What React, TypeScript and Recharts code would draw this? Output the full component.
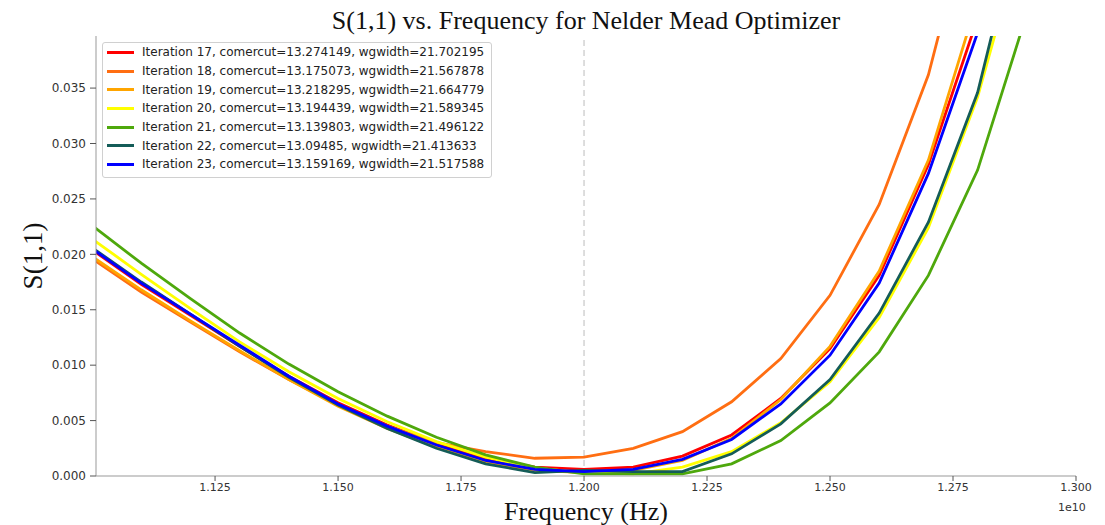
import React from 'react';
import {
  LineChart,
  Line,
  XAxis,
  YAxis,
  Legend,
  ReferenceLine,
  Label,
} from 'recharts';

// frequencies in units of 1e10 Hz
const freqs = [
  1.1, 1.11, 1.12, 1.13, 1.14, 1.15, 1.16, 1.17, 1.18, 1.19, 1.2,
  1.21, 1.22, 1.23, 1.24, 1.25, 1.26, 1.27, 1.28, 1.29, 1.3,
];

const iter17 = [0.0204, 0.0173, 0.0145, 0.0117, 0.009, 0.0066, 0.0046, 0.0029, 0.0016, 0.0008, 0.0006, 0.0008, 0.0018, 0.0037, 0.007, 0.0115, 0.0181, 0.0281, 0.0413, 0.06, 0.085];
const iter18 = [0.0196, 0.0166, 0.0139, 0.0112, 0.0087, 0.0064, 0.0045, 0.003, 0.0022, 0.0016, 0.0017, 0.0025, 0.004, 0.0067, 0.0106, 0.0163, 0.0245, 0.0362, 0.0534, 0.076, 0.106];
const iter19 = [0.0198, 0.0168, 0.014, 0.0113, 0.0087, 0.0063, 0.0043, 0.0026, 0.0013, 0.0005, 0.0003, 0.0005, 0.0014, 0.0034, 0.0069, 0.0117, 0.0185, 0.0285, 0.043, 0.062, 0.088];
const iter20 = [0.0214, 0.0182, 0.0151, 0.0121, 0.0094, 0.007, 0.0049, 0.0031, 0.0017, 0.0007, 0.0003, 0.0002, 0.0008, 0.0022, 0.0048, 0.0085, 0.0143, 0.0224, 0.0342, 0.0501, 0.072];
const iter21 = [0.0226, 0.0192, 0.016, 0.0129, 0.0101, 0.0076, 0.0054, 0.0035, 0.0019, 0.0008, 0.0002, 0.0002, 0.0002, 0.0011, 0.0032, 0.0066, 0.0112, 0.0181, 0.0276, 0.0417, 0.06];
const iter22 = [0.0206, 0.0175, 0.0146, 0.0117, 0.0089, 0.0064, 0.0043, 0.0025, 0.0011, 0.0003, 0.0005, 0.0004, 0.0004, 0.002, 0.0047, 0.0087, 0.0147, 0.0229, 0.0346, 0.0526, 0.075];
const iter23 = [0.0205, 0.0174, 0.0146, 0.0118, 0.009, 0.0065, 0.0045, 0.0028, 0.0014, 0.0006, 0.0004, 0.0006, 0.0015, 0.0033, 0.0065, 0.0109, 0.0174, 0.0273, 0.04, 0.058, 0.082];

const iterations = [17, 18, 19, 20, 21, 22, 23];
const comercut = ['13.274149', '13.175073', '13.218295', '13.194439', '13.139803', '13.09485', '13.159169'];
const wgwidth = ['21.702195', '21.567878', '21.664779', '21.589345', '21.496122', '21.413633', '21.517588'];
const colors = ['#ff0000', '#ff6e12', '#ffa500', '#ffff00', '#4ea80c', '#145c58', '#0000ff'];
const seriesValues = [iter17, iter18, iter19, iter20, iter21, iter22, iter23];

const xTicks = [1.125, 1.15, 1.175, 1.2, 1.225, 1.25, 1.275, 1.3];
const yTicks = [0, 0.005, 0.01, 0.015, 0.02, 0.025, 0.03, 0.035];

const data = freqs.map((f, i) => {
  const row: Record<string, number> = { f };
  iterations.forEach((it, k) => {
    row['it' + it] = seriesValues[k][i];
  });
  return row;
});

const SANS = '"DejaVu Sans", sans-serif';
const SERIF = '"Liberation Serif", "DejaVu Serif", serif';

function LegendBox(props: any) {
  const items = props.payload || [];
  return (
    <div
      style={{
        background: 'rgba(255,255,255,0.85)',
        border: '1px solid #d0d0d0',
        borderRadius: 3,
        padding: '0px 7px 3px 4px',
        fontFamily: SANS,
        fontSize: 12,
        color: '#222',
      }}
    >
      {items.map((it: any) => (
        <div key={it.value} style={{ display: 'flex', alignItems: 'center', height: 18.7 }}>
          <span style={{ display: 'inline-block', width: 27, height: 3, background: it.color, marginRight: 8 }} />
          <span style={{ whiteSpace: 'nowrap' }}>{it.value}</span>
        </div>
      ))}
    </div>
  );
}

export default function App() {
  return (
    <div style={{ position: 'absolute', left: 0, top: 0, width: 1105, height: 525, background: '#fff' }}>
      <div
        style={{
          position: 'absolute',
          left: 96,
          top: 7,
          width: 980,
          textAlign: 'center',
          fontFamily: SERIF,
          fontSize: 26,
          lineHeight: '28px',
          color: '#111',
        }}
      >
        S(1,1) vs. Frequency for Nelder Mead Optimizer
      </div>
      <div style={{ position: 'absolute', left: 1058, top: 501, fontFamily: SANS, fontSize: 11, color: '#333' }}>1e10</div>
      <LineChart width={1105} height={525} data={data} margin={{ top: 36, right: 29, left: 0, bottom: 0 }}>
        <XAxis
          dataKey="f"
          type="number"
          domain={[1.1008, 1.3]}
          allowDataOverflow
          ticks={xTicks}
          tickFormatter={(v: number) => v.toFixed(3)}
          height={49}
          tickSize={5}
          tickMargin={2}
          stroke="#999"
          tickLine={{ stroke: '#555' }}
          tick={{ fontFamily: SANS, fontSize: 11, fill: '#333' }}
        >
          <Label
            value="Frequency (Hz)"
            position="insideBottom"
            offset={5}
            style={{ fontFamily: SERIF, fontSize: 26, fill: '#111' }}
          />
        </XAxis>
        <XAxis xAxisId="top" orientation="top" type="number" domain={[0, 1]} height={0} tick={false} tickLine={false} stroke="#999" />
        <YAxis
          type="number"
          domain={[0, 0.0397]}
          allowDataOverflow
          ticks={yTicks}
          tickFormatter={(v: number) => v.toFixed(3)}
          width={96}
          tickSize={6}
          tickMargin={4}
          stroke="#999"
          tickLine={{ stroke: '#555' }}
          tick={{ fontFamily: SANS, fontSize: 12, fill: '#333' }}
        >
          <Label
            value="S(1,1)"
            angle={-90}
            position="insideLeft"
            offset={32}
            style={{ fontFamily: SERIF, fontSize: 27, fill: '#111', textAnchor: 'middle' }}
          />
        </YAxis>
        <YAxis yAxisId="right" orientation="right" type="number" domain={[0, 1]} width={0} tick={false} tickLine={false} stroke="#999" />
        <ReferenceLine x={1.2} stroke="#c8c8c8" strokeDasharray="6 4" strokeWidth={1.2} />
        {iterations.map((it, k) => (
          <Line
            key={it}
            type="linear"
            dataKey={'it' + it}
            name={`Iteration ${it}, comercut=${comercut[k]}, wgwidth=${wgwidth[k]}`}
            stroke={colors[k]}
            strokeWidth={2.8}
            dot={false}
            isAnimationActive={false}
          />
        ))}
        <Legend
          layout="vertical"
          align="center"
          verticalAlign="middle"
          content={<LegendBox />}
          wrapperStyle={{ top: 42, left: 102, width: 'auto', height: 'auto' }}
        />
      </LineChart>
    </div>
  );
}
